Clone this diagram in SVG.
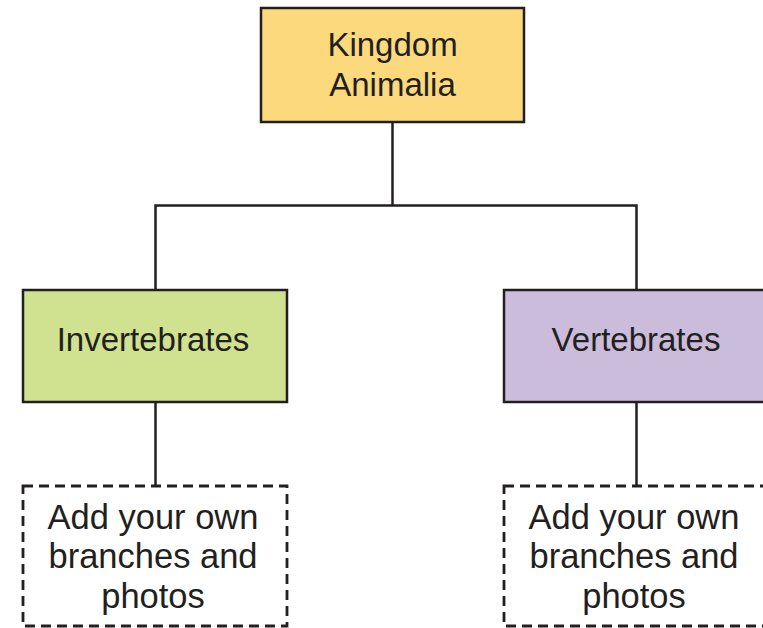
<svg xmlns="http://www.w3.org/2000/svg" width="763" height="628" viewBox="0 0 763 628">
<style>
.box{stroke:#231f20;stroke-width:2.5}
.dash{fill:#ffffff;stroke:#231f20;stroke-width:2.8;stroke-dasharray:10 6}
.conn{fill:none;stroke:#231f20;stroke-width:2.5}
text{font-family:"Liberation Sans",Arial,Helvetica,sans-serif;font-size:33px;fill:#231f20;text-anchor:middle}
.big{font-size:34.5px}
</style>
<rect width="763" height="628" fill="#ffffff"/>
<g id="connectors">
<path class="conn" d="M392.5 122 V205.5 M155.5 289 V205.5 H636.5 V289"/>
<path class="conn" d="M155.5 403 V486"/>
<path class="conn" d="M636.5 403 V486"/>
</g>
<g id="kingdom">
<rect class="box" x="261" y="8" width="263" height="114" fill="#fdd97d"/>
<text x="392.5" y="56">Kingdom</text>
<text x="392.5" y="96">Animalia</text>
</g>
<g id="invertebrates">
<rect class="box" x="23" y="290" width="264" height="112" fill="#d0e18f"/>
<text x="153" y="351">Invertebrates</text>
</g>
<g id="vertebrates">
<rect class="box" x="504" y="290" width="264" height="112" fill="#cbbcdc"/>
<text x="636" y="351">Vertebrates</text>
</g>
<g id="add-left">
<rect class="dash" x="23" y="486" width="264" height="140"/>
<text class="big" x="153" y="529">Add your own</text>
<text class="big" x="153" y="568">branches and</text>
<text class="big" x="153" y="608">photos</text>
</g>
<g id="add-right">
<rect class="dash" x="504" y="486" width="264" height="140"/>
<text class="big" x="634" y="529">Add your own</text>
<text class="big" x="634" y="568">branches and</text>
<text class="big" x="634" y="608">photos</text>
</g>
</svg>
